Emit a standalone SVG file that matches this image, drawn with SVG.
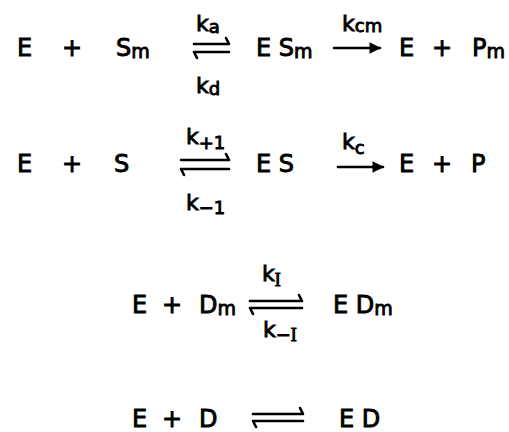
<svg xmlns="http://www.w3.org/2000/svg" width="509" height="432" viewBox="0 0 509 432">
<style>
text{font-family:"DejaVu Sans","Liberation Sans",sans-serif;fill:#000;stroke:#000;stroke-width:0.9}
.t{font-size:24px}
.s{font-size:19px}
.k{font-size:22px}
.ks{font-size:18px}
.ln{fill:none;stroke:#000;stroke-width:2.6;stroke-linecap:round;stroke-linejoin:round}
</style>
<defs>
<marker id="ah" viewBox="0 0 10 10" refX="9" refY="5" markerWidth="5" markerHeight="4.5" orient="auto" markerUnits="strokeWidth">
<path d="M0,0 L10,5 L0,10 z" fill="#000"/>
</marker>
</defs>
<rect width="509" height="432" fill="#fff"/>
<g id="row1">
<text class="t" x="17" y="56">E</text>
<text class="t" x="62" y="56">+</text>
<text class="t" x="116" y="56">S<tspan class="s" dy="2">m</tspan></text>
<text class="k" x="196" y="31">k<tspan class="ks" dy="2">a</tspan></text>
<text class="k" x="196" y="93">k<tspan class="ks" dy="2">d</tspan></text>
<text class="t" x="256" y="56">E S<tspan class="s" dy="2">m</tspan></text>
<text class="k" x="342" y="31">k<tspan class="ks" dy="1">cm</tspan></text>
<text class="t" x="399" y="56">E</text>
<text class="t" x="432" y="56">+</text>
<text class="t" x="472" y="56">P<tspan class="s" dy="2">m</tspan></text>
</g>
<g id="row2">
<text class="t" x="17" y="172">E</text>
<text class="t" x="62" y="172">+</text>
<text class="t" x="114" y="172">S</text>
<text class="k" x="186" y="144">k<tspan class="ks" dy="5">+1</tspan></text>
<text class="k" x="186" y="210">k<tspan class="ks" dy="4">−1</tspan></text>
<text class="t" x="256" y="172">E S</text>
<text class="k" x="342" y="149">k<tspan class="ks" dy="5">c</tspan></text>
<text class="t" x="399" y="172">E</text>
<text class="t" x="432" y="172">+</text>
<text class="t" x="471" y="172">P</text>
</g>
<g id="row3">
<text class="t" x="132" y="313">E</text>
<text class="t" x="162" y="313">+</text>
<text class="t" x="199" y="313">D<tspan class="s" dy="2">m</tspan></text>
<text class="k" x="262" y="281">k<tspan class="ks" dy="5" font-family="Liberation Serif">I</tspan></text>
<text class="k" x="263" y="337">k<tspan class="ks" dy="4">−</tspan><tspan class="ks" font-family="Liberation Serif">I</tspan></text>
<text class="t" x="333" y="313">E D<tspan class="s" dy="2">m</tspan></text>
</g>
<g id="row4">
<text class="t" x="132" y="427">E</text>
<text class="t" x="162" y="427">+</text>
<text class="t" x="199" y="427">D</text>
<text class="t" x="339" y="427">E D</text>
</g>
<g id="connectors">
<path class="ln" d="M194,44 H229 l-3,-6 M194,52 H229 M194,52 l3,6"/>
<path class="ln" d="M334,48 H380" marker-end="url(#ah)"/>
<path class="ln" d="M181,160 H229 l-3,-6 M181,169 H229 M181,169 l3,6"/>
<path class="ln" d="M338,167 H383" marker-end="url(#ah)"/>
<path class="ln" d="M250,301 H302 l-3,-6 M250,308 H302 M250,308 l3,6"/>
<path class="ln" d="M253,414 H303 l-3,-6 M253,421 H303 M253,421 l3,6"/>
</g>
</svg>
